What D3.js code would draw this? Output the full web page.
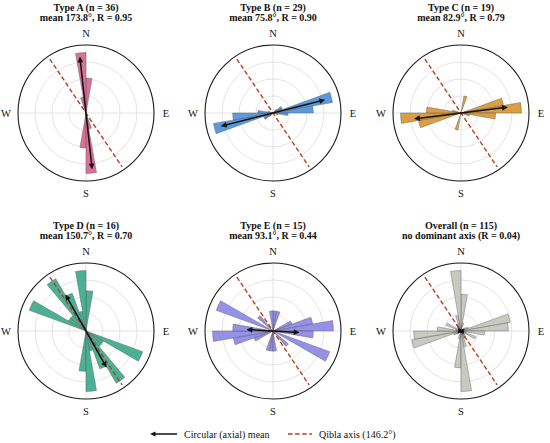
<!DOCTYPE html>
<html>
<head>
<meta charset="utf-8">
<script src="https://cdn.jsdelivr.net/npm/d3@7"></script>
<style>
  html, body { margin: 0; padding: 0; background: #fff; }
  svg { display: block; }
  text { font-family: "Liberation Serif", "Times New Roman", serif; fill: #111; }
</style>
</head>
<body>
<svg id="chart" width="550" height="443"></svg>
<script>
// ---- data (axial orientations, 10° bins, counts) ----
const binStart = [0, 10, 20, 30, 40, 50, 60, 70, 80, 90, 100, 110, 120, 130, 140, 150, 160, 170];
const binWidth = 10;

const countsA = [11, 0, 0, 0, 0, 0, 0, 0, 0, 0, 0, 0, 0, 0, 0, 1, 5, 19];
const countsB = [0, 0, 0, 0, 1, 2, 2, 12, 8, 3, 1, 0, 0, 0, 0, 0, 0, 0];
const countsC = [0, 2, 0, 0, 0, 0, 0, 5, 7, 4, 1, 0, 0, 0, 0, 0, 0, 0];
const countsD = [2, 0, 0, 0, 0, 0, 0, 0, 0, 0, 0, 3, 1, 1, 3, 2, 1, 3];
const countsE = [1, 1, 0, 0, 0, 0, 1, 2, 3, 2, 0, 3, 0, 1, 0, 0, 0, 1];
const countsAll = [14, 3, 0, 0, 1, 2, 3, 19, 18, 9, 2, 6, 1, 2, 3, 3, 6, 23];

const panelNames = ["Type A (n = 36)", "Type B (n = 29)", "Type C (n = 19)", "Type D (n = 16)", "Type E (n = 15)", "Overall (n = 115)"];
const panelSubtitles = ["mean 173.8°, R = 0.95", "mean 75.8°, R = 0.90", "mean 82.9°, R = 0.79", "mean 150.7°, R = 0.70", "mean 93.1°, R = 0.44", "no dominant axis (R = 0.04)"];
const meanAxis = [173.8, 75.8, 82.9, 150.7, 93.1, 97];
const meanR = [0.95, 0.90, 0.79, 0.70, 0.44, 0.04];
const qiblaAxis = 146.2;
const compassLabels = ["N", "E", "S", "W"];
const compassAngles = [0, 90, 180, 270];
const legendLabels = ["Circular (axial) mean", "Qibla axis (146.2°)"];

const seriesCounts = [countsA, countsB, countsC, countsD, countsE, countsAll];
const colors = ["#d8608c", "#4a8fda", "#d6952e", "#38a988", "#8b85e6", "#c3c3bb"];

// ---- layout ----
const svg = d3.select("#chart");
svg.append("rect").attr("width", 550).attr("height", 443).attr("fill", "#fff");
const colX = [86, 273, 461];
const rowY = [113, 331];
const titleY = [7, 225];
const rOut = 68;
const qiblaColor = "#b3431c";

const toRad = d3.scaleLinear().domain([0, 360]).range([0, 2 * Math.PI]);
const px = (deg, r) => r * Math.sin(toRad(deg));
const py = (deg, r) => -r * Math.cos(toRad(deg));

function arrowHead(g, deg, tipR, len, halfW) {
  const tx = px(deg, tipR), ty = py(deg, tipR);
  const bx = px(deg, tipR - len), by = py(deg, tipR - len);
  const nx = px(deg + 90, halfW), ny = py(deg + 90, halfW);
  g.append("path")
    .attr("d", `M${tx},${ty}L${bx + nx},${by + ny}L${bx - nx},${by - ny}Z`)
    .attr("fill", "#111").attr("stroke", "#111").attr("stroke-width", 0.6);
}

seriesCounts.forEach((counts, i) => {
  const cx = colX[i % 3], cy = rowY[Math.floor(i / 3)];
  const g = svg.append("g").attr("transform", `translate(${cx},${cy})`);
  const r = d3.scaleLinear().domain([0, d3.max(counts) * 1.125]).range([0, rOut]);

  // grid
  [0.25, 0.5, 0.75].forEach(f => {
    g.append("circle").attr("r", rOut * f).attr("fill", "none")
      .attr("stroke", "#dcdcdc").attr("stroke-width", 0.8);
  });
  [0, 90].forEach(a => {
    g.append("line")
      .attr("x1", px(a, -rOut)).attr("y1", py(a, -rOut))
      .attr("x2", px(a, rOut)).attr("y2", py(a, rOut))
      .attr("stroke", "#dcdcdc").attr("stroke-width", 0.8);
  });

  // bars (each axial bin drawn at θ and θ+180)
  const arc = d3.arc().innerRadius(0);
  const bars = [];
  binStart.forEach((b, k) => {
    if (counts[k] > 0) {
      [0, 180].forEach(off => bars.push({ s: b + off, e: b + off + binWidth, v: counts[k] }));
    }
  });
  g.selectAll("path.bar").data(bars).join("path")
    .attr("class", "bar")
    .attr("d", d => arc({ startAngle: toRad(d.s), endAngle: toRad(d.e), outerRadius: r(d.v) }))
    .attr("fill", colors[i]).attr("fill-opacity", 0.9)
    .attr("stroke", "#555").attr("stroke-width", 0.5).attr("stroke-opacity", 0.8);

  // qibla axis
  const qr = rOut * 0.955;
  g.append("line")
    .attr("x1", px(qiblaAxis, -qr)).attr("y1", py(qiblaAxis, -qr))
    .attr("x2", px(qiblaAxis, qr)).attr("y2", py(qiblaAxis, qr))
    .attr("stroke", qiblaColor).attr("stroke-width", 1.4)
    .attr("stroke-dasharray", "4.5,2.6");

  // mean axis arrow (double-headed)
  const L = meanR[i] * rOut * 0.87;
  const headLen = 5, headW = 2.4;
  const lineR = Math.max(L - headLen + 0.5, 0);
  g.append("line")
    .attr("x1", px(meanAxis[i], -lineR)).attr("y1", py(meanAxis[i], -lineR))
    .attr("x2", px(meanAxis[i], lineR)).attr("y2", py(meanAxis[i], lineR))
    .attr("stroke", "#111").attr("stroke-width", 1.5);
  arrowHead(g, meanAxis[i], L, headLen, headW);
  arrowHead(g, meanAxis[i] + 180, L, headLen, headW);

  // outer boundary
  g.append("circle").attr("r", rOut).attr("fill", "none")
    .attr("stroke", "#1a1a1a").attr("stroke-width", 1.1);

  // compass labels
  compassLabels.forEach((lab, k) => {
    g.append("text")
      .attr("x", px(compassAngles[k], rOut + 12))
      .attr("y", py(compassAngles[k], rOut + 12))
      .attr("text-anchor", "middle").attr("dominant-baseline", "central")
      .attr("font-size", 10.5).text(lab);
  });

  // titles
  const ty = titleY[Math.floor(i / 3)];
  svg.append("text").attr("x", cx).attr("y", ty).attr("text-anchor", "middle")
    .attr("dominant-baseline", "central").attr("font-size", 10).attr("font-weight", "bold")
    .text(panelNames[i]);
  svg.append("text").attr("x", cx).attr("y", ty + 10.6).attr("text-anchor", "middle")
    .attr("dominant-baseline", "central").attr("font-size", 10).attr("font-weight", "bold")
    .text(panelSubtitles[i]);
});

// ---- legend ----
const leg = svg.append("g");
const ly = 434;
leg.append("line").attr("x1", 153).attr("y1", ly).attr("x2", 177).attr("y2", ly)
  .attr("stroke", "#111").attr("stroke-width", 1.5);
leg.append("path").attr("d", `M150,${ly}L155.5,${ly - 2.4}L155.5,${ly + 2.4}Z`).attr("fill", "#111");
leg.append("text").attr("x", 184).attr("y", ly).attr("dominant-baseline", "central")
  .attr("font-size", 10).text(legendLabels[0]);
leg.append("line").attr("x1", 288).attr("y1", ly).attr("x2", 312).attr("y2", ly)
  .attr("stroke", qiblaColor).attr("stroke-width", 1.4).attr("stroke-dasharray", "4.5,2.6");
leg.append("text").attr("x", 319).attr("y", ly).attr("dominant-baseline", "central")
  .attr("font-size", 10).text(legendLabels[1]);
</script>
</body>
</html>
